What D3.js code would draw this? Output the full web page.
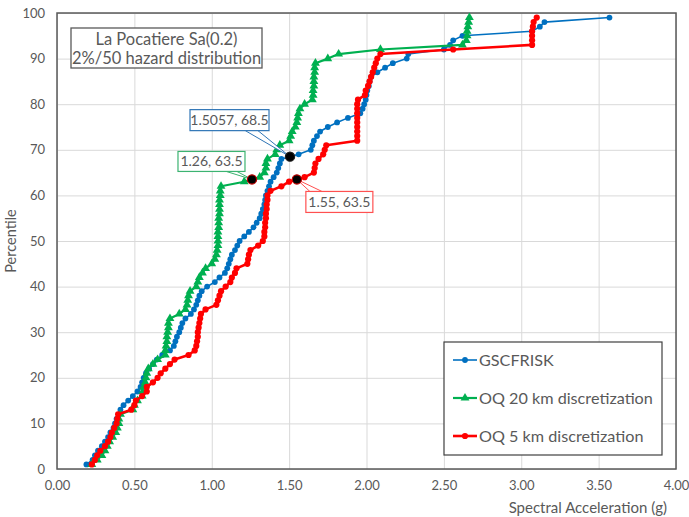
<!DOCTYPE html>
<html>
<head>
<meta charset="utf-8">
<script src="https://cdn.jsdelivr.net/npm/d3@7"></script>
<style>
  body { margin: 0; background: #fff; }
  svg text { font-family: Lato, "DejaVu Sans", sans-serif; }
</style>
</head>
<body>
<svg id="chart" width="689" height="517"></svg>
<script>
// Percentile levels shared by all three hazard distributions
const percentiles = [
  1,2,3,4,5,6,7,8,9,10,11,12,13,14,15,16,17,18,19,20,
  21,22,23,24,25,26,27,28,29,30,31,32,33,34,35,36,37,38,39,40,
  41,42,43,44,45,46,47,48,49,50,51,52,53,54,55,56,57,58,59,60,
  61,62,63,64,65,66,67,68,69,70,71,72,73,74,75,76,77,78,79,80,
  81,82,83,84,85,86,87,88,89,90,91,92,93,94,95,96,97,98,99
];

// Spectral acceleration (g) at each percentile
const gscfrisk = [
  0.19,0.23,0.245,0.265,0.29,0.31,0.33,0.345,0.365,0.375,
  0.385,0.40,0.41,0.43,0.46,0.49,0.52,0.54,0.55,0.56,
  0.575,0.595,0.62,0.645,0.68,0.73,0.755,0.765,0.775,0.79,
  0.80,0.81,0.83,0.865,0.885,0.90,0.91,0.92,0.935,0.97,
  1.02,1.05,1.085,1.10,1.11,1.12,1.13,1.15,1.165,1.18,
  1.21,1.24,1.27,1.29,1.31,1.32,1.33,1.34,1.345,1.35,
  1.36,1.37,1.38,1.40,1.42,1.43,1.44,1.45,1.5614,1.64,
  1.65,1.66,1.68,1.70,1.75,1.81,1.88,1.96,1.975,1.985,
  1.995,2.00,2.005,2.015,2.02,2.03,2.07,2.12,2.17,2.26,
  2.27,2.50,2.54,2.56,2.62,3.07,3.12,3.15,3.57
];

const oq20km = [
  0.225,0.26,0.29,0.31,0.325,0.34,0.36,0.38,0.39,0.40,
  0.40,0.41,0.49,0.50,0.52,0.55,0.555,0.56,0.57,0.575,
  0.58,0.59,0.62,0.65,0.70,0.70,0.705,0.71,0.71,0.715,
  0.72,0.72,0.73,0.79,0.83,0.84,0.845,0.85,0.86,0.90,
  0.91,0.92,0.94,0.96,1.00,1.02,1.03,1.035,1.04,1.04,
  1.04,1.04,1.045,1.045,1.045,1.05,1.05,1.05,1.05,1.055,
  1.055,1.06,1.21,1.31,1.34,1.35,1.35,1.36,1.41,1.42,
  1.44,1.50,1.51,1.52,1.54,1.55,1.555,1.56,1.57,1.60,
  1.65,1.655,1.655,1.66,1.66,1.66,1.665,1.665,1.67,1.75,
  1.82,2.09,2.62,2.645,2.65,2.65,2.655,2.66,2.665
];

const oq5km = [
  0.225,0.245,0.26,0.28,0.31,0.33,0.345,0.355,0.37,0.385,
  0.39,0.395,0.48,0.50,0.51,0.55,0.58,0.58,0.62,0.65,
  0.67,0.70,0.73,0.76,0.85,0.89,0.90,0.905,0.91,0.91,
  0.915,0.92,0.925,0.93,0.96,1.03,1.04,1.05,1.06,1.09,
  1.12,1.13,1.15,1.16,1.23,1.235,1.24,1.25,1.30,1.33,
  1.34,1.34,1.345,1.345,1.35,1.35,1.355,1.355,1.36,1.36,
  1.38,1.45,1.50,1.60,1.66,1.665,1.67,1.69,1.72,1.73,
  1.74,1.94,1.94,1.94,1.94,1.94,1.94,1.94,1.94,1.94,
  1.945,1.99,1.995,2.01,2.02,2.03,2.04,2.05,2.06,2.07,
  2.09,2.56,3.07,3.07,3.07,3.07,3.075,3.08,3.10
];

const seriesNames = ["GSCFRISK", "OQ 20 km discretization", "OQ 5 km discretization"];

// Highlighted points with their callout labels
const calloutX = [1.5057, 1.26, 1.55];
const calloutY = [68.5, 63.5, 63.5];
const calloutText = ["1.5057, 68.5", "1.26, 63.5", "1.55, 63.5"];

const xTickValues = [0, 0.5, 1, 1.5, 2, 2.5, 3, 3.5, 4];
const yTickValues = [0, 10, 20, 30, 40, 50, 60, 70, 80, 90, 100];
const titleLines = ["La Pocatiere Sa(0.2)", "2%/50 hazard distribution"];
const xTitle = "Spectral Acceleration (g)";
const yTitle = "Percentile";

// ---- layout and styling ----
const W = 689, H = 517;
const plot = { left: 57, top: 13, right: 676, bottom: 469 };
const colors = ["#0070c0", "#00b050", "#ff0000"];
const lineWidths = [1.6, 2.2, 2.6];
const textGray = "#595959";

const svg = d3.select("#chart");

const x = d3.scaleLinear().domain([0, 4]).range([plot.left, plot.right]);
const y = d3.scaleLinear().domain([0, 100]).range([plot.bottom, plot.top]);

// gridlines
svg.append("g")
  .attr("transform", `translate(0,${plot.bottom})`)
  .call(d3.axisBottom(x).tickValues(xTickValues).tickSize(-(plot.bottom - plot.top)).tickFormat(""))
  .call(g => g.select(".domain").remove())
  .call(g => g.selectAll("line").attr("stroke", "#d9d9d9").attr("stroke-width", 1));
svg.append("g")
  .attr("transform", `translate(${plot.left},0)`)
  .call(d3.axisLeft(y).tickValues(yTickValues).tickSize(-(plot.right - plot.left)).tickFormat(""))
  .call(g => g.select(".domain").remove())
  .call(g => g.selectAll("line").attr("stroke", "#d9d9d9").attr("stroke-width", 1));

// tick labels
const xAxis = svg.append("g")
  .attr("transform", `translate(0,${plot.bottom})`)
  .call(d3.axisBottom(x).tickValues(xTickValues).tickSize(0).tickPadding(12).tickFormat(d3.format(".2f")));
xAxis.select(".domain").remove();
xAxis.selectAll("text").attr("fill", textGray).attr("font-size", 13)
  .style("font-family", "Lato, sans-serif");

const yAxis = svg.append("g")
  .attr("transform", `translate(${plot.left},0)`)
  .call(d3.axisLeft(y).tickValues(yTickValues).tickSize(0).tickPadding(12).tickFormat(d3.format("d")));
yAxis.select(".domain").remove();
yAxis.selectAll("text").attr("fill", textGray).attr("font-size", 13)
  .style("font-family", "Lato, sans-serif");

// plot frame
svg.append("rect")
  .attr("x", plot.left).attr("y", plot.top)
  .attr("width", plot.right - plot.left).attr("height", plot.bottom - plot.top)
  .attr("fill", "none").attr("stroke", "#595959").attr("stroke-width", 1.5);

// axis titles
svg.append("text")
  .attr("x", 667).attr("y", 513)
  .attr("text-anchor", "end").attr("fill", textGray).attr("font-size", 15)
  .text(xTitle);
svg.append("text")
  .attr("transform", `translate(16,${(plot.top + plot.bottom) / 2}) rotate(-90)`)
  .attr("text-anchor", "middle").attr("fill", textGray).attr("font-size", 14.5)
  .text(yTitle);

// series
const allSeries = [gscfrisk, oq20km, oq5km];
const line = d3.line().x(d => x(d[0])).y(d => y(d[1]));
const triangle = d3.symbol().type(d3.symbolTriangle).size(34);

function drawMarker(g, i, cx, cy) {
  if (i === 1) {
    g.append("path").attr("d", triangle()).attr("transform", `translate(${cx},${cy})`)
      .attr("fill", colors[i]);
  } else {
    g.append("circle").attr("cx", cx).attr("cy", cy).attr("r", i === 0 ? 2.9 : 3.1)
      .attr("fill", colors[i]);
  }
}

allSeries.forEach((vals, i) => {
  const pts = vals.map((v, k) => [v, percentiles[k]]);
  const g = svg.append("g");
  g.append("path").datum(pts).attr("d", line)
    .attr("fill", "none").attr("stroke", colors[i]).attr("stroke-width", lineWidths[i])
    .attr("stroke-linejoin", "round");
  pts.forEach(p => drawMarker(g, i, x(p[0]), y(p[1])));
});

// callouts
const calloutBoxes = [
  { dx: -100, dy: -47, w: 79, h: 21, wedge: [0.70, 0.86], side: "bottom" },
  { dx: -74, dy: -28, w: 67, h: 20, wedge: [0.72, 0.88], side: "bottom" },
  { dx: 9, dy: 12, w: 67, h: 21, wedge: [0.06, 0.24], side: "top" }
];
const calloutColors = ["#2e75b6", "#3cb371", "#ff5050"];
const markerRing = ["#1f1f1f", "#c00000", "#c00000"];

calloutX.forEach((cxv, i) => {
  const mx = x(cxv), my = y(calloutY[i]);
  const b = calloutBoxes[i];
  const bx = mx + b.dx, by = my + b.dy;
  const g = svg.append("g");
  const ey = b.side === "bottom" ? by + b.h : by;
  const wx1 = bx + b.wedge[0] * b.w, wx2 = bx + b.wedge[1] * b.w;
  g.append("path")
    .attr("d", `M${wx1},${ey} L${mx},${my} L${wx2},${ey}`)
    .attr("fill", "#fff").attr("stroke", calloutColors[i]).attr("stroke-width", 1);
  g.append("rect")
    .attr("x", bx).attr("y", by).attr("width", b.w).attr("height", b.h)
    .attr("fill", "#fff").attr("stroke", calloutColors[i]).attr("stroke-width", 1.2);
  g.append("text")
    .attr("x", bx + b.w / 2).attr("y", by + b.h / 2 + 5)
    .attr("text-anchor", "middle").attr("fill", textGray).attr("font-size", 14)
    .text(calloutText[i]);
  svg.append("circle").attr("cx", mx).attr("cy", my).attr("r", 4.6)
    .attr("fill", "#000").attr("stroke", markerRing[i]).attr("stroke-width", 1.2);
});

// title box
const tg = svg.append("g");
tg.append("rect").attr("x", 71).attr("y", 28).attr("width", 191).attr("height", 40)
  .attr("fill", "#fff").attr("stroke", "#595959").attr("stroke-width", 1.3);
titleLines.forEach((t, k) => {
  tg.append("text").attr("x", 166.5).attr("y", 45 + k * 18.5)
    .attr("text-anchor", "middle").attr("fill", textGray).attr("font-size", 16.5)
    .text(t);
});

// legend
const lg = svg.append("g");
lg.append("rect").attr("x", 444).attr("y", 342).attr("width", 218).attr("height", 113)
  .attr("fill", "#fff").attr("stroke", "#404040").attr("stroke-width", 1.2);
seriesNames.forEach((name, i) => {
  const ly = 360 + i * 38;
  lg.append("line").attr("x1", 453).attr("x2", 477).attr("y1", ly).attr("y2", ly)
    .attr("stroke", colors[i]).attr("stroke-width", lineWidths[i]);
  drawMarker(lg, i, 465, ly);
  lg.append("text").attr("x", 479).attr("y", ly + 5.5)
    .attr("fill", textGray).attr("font-size", 16.2).text(name);
});
</script>
</body>
</html>
